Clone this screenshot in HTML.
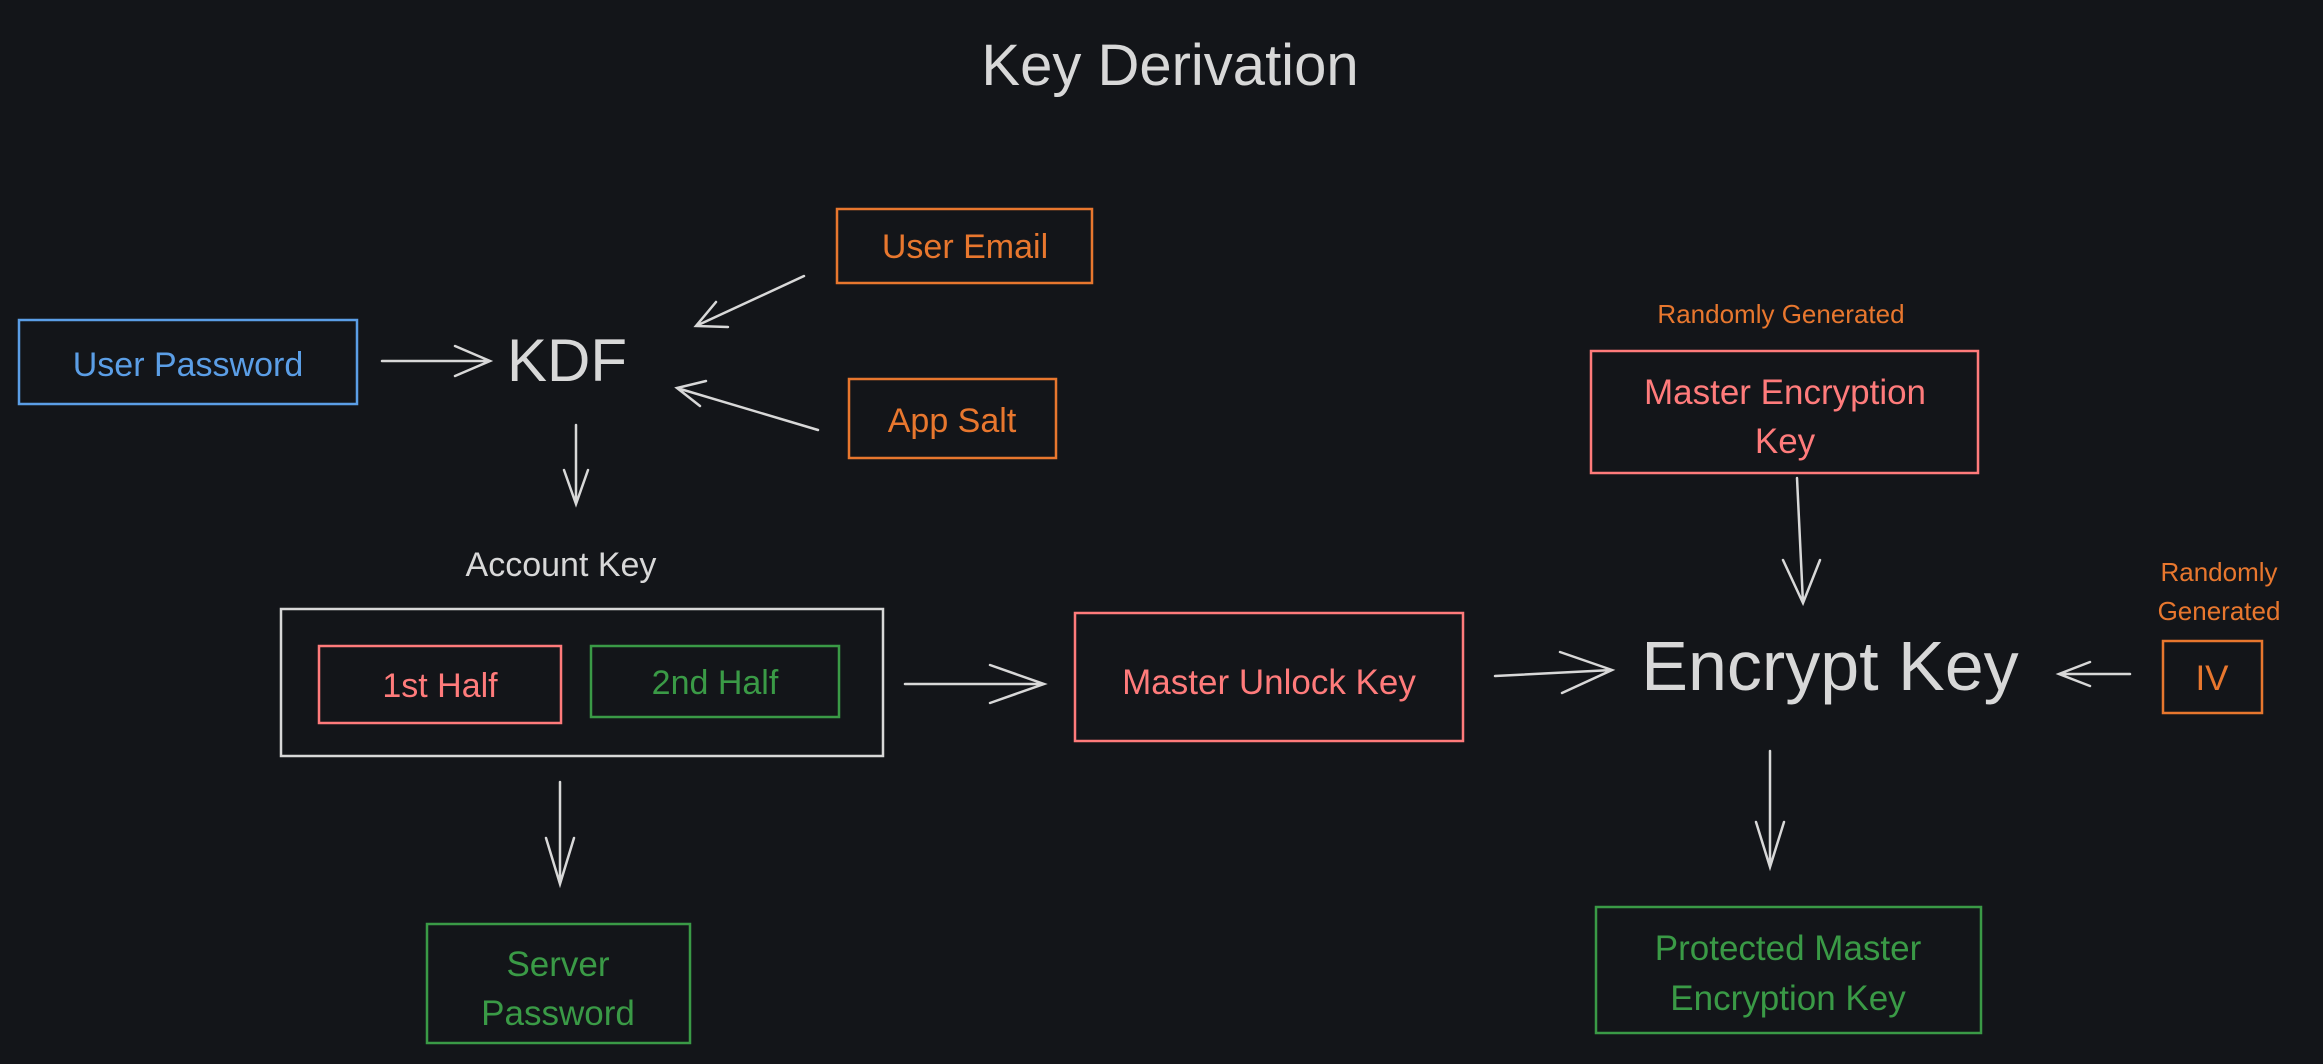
<!DOCTYPE html>
<html><head><meta charset="utf-8"><style>
html,body{margin:0;padding:0;background:#131519;}
svg{display:block}
text{font-family:"Liberation Sans",sans-serif;}
</style></head><body>
<svg width="2323" height="1064" viewBox="0 0 2323 1064" xmlns="http://www.w3.org/2000/svg">
<rect width="2323" height="1064" fill="#131519"/>
<g fill="none" stroke-width="2.5">
<rect x="19" y="320" width="338" height="84" stroke="#5b9ee6"/>
<rect x="837" y="209" width="255" height="74" stroke="#e8772e"/>
<rect x="849" y="379" width="207" height="79" stroke="#e8772e"/>
<rect x="281" y="609" width="602" height="147" stroke="#d8d8d8"/>
<rect x="319" y="646" width="242" height="77" stroke="#ff7b7b"/>
<rect x="591" y="646" width="248" height="71" stroke="#3a9a46"/>
<rect x="1075" y="613" width="388" height="128" stroke="#ff7b7b"/>
<rect x="1591" y="351" width="387" height="122" stroke="#ff7b7b"/>
<rect x="2163" y="641" width="99" height="72" stroke="#e8772e"/>
<rect x="427" y="924" width="263" height="119" stroke="#3a9a46"/>
<rect x="1596" y="907" width="385" height="126" stroke="#3a9a46"/>
</g>
<g stroke="#d8d8d8" stroke-width="2.5" fill="none" stroke-linecap="round">
<path d="M382 361 L490 361 M455 346 L490 361 L455 376"/>
<path d="M804 276 L696 326 M716 302 L696 326 L728 327"/>
<path d="M818 430 L677 388 M706 381 L677 388 L700 406"/>
<path d="M576 425 L576 504 M564 470 L576 504 L588 470"/>
<path d="M905 684 L1044 684 M990 665 L1044 684 L990 703"/>
<path d="M560 782 L560 884 M546 838 L560 884 L574 838"/>
<path d="M1495 676 L1612 670 M1560 652 L1612 670 L1562 693"/>
<path d="M1797 478 L1803 603 M1783 560 L1803 603 L1820 560"/>
<path d="M2130 674 L2059 674 M2090 662 L2059 674 L2090 686"/>
<path d="M1770 751 L1770 867 M1756 822 L1770 867 L1784 822"/>
</g>
<g text-anchor="middle">
<text x="1170" y="85" font-size="58" fill="#d8d8d8">Key Derivation</text>
<text x="188" y="376" font-size="34" fill="#5b9ee6">User Password</text>
<text x="965" y="258" font-size="34" fill="#e8772e">User Email</text>
<text x="952" y="432" font-size="34" fill="#e8772e">App Salt</text>
<text x="567" y="381" font-size="60" fill="#d8d8d8">KDF</text>
<text x="561" y="576" font-size="34" fill="#d8d8d8">Account Key</text>
<text x="440" y="697" font-size="34" fill="#ff7b7b">1st Half</text>
<text x="715" y="694" font-size="34" fill="#3a9a46">2nd Half</text>
<text x="1269" y="694" font-size="35" fill="#ff7b7b">Master Unlock Key</text>
<text x="1781" y="323" font-size="26" fill="#e8772e">Randomly Generated</text>
<text x="1785" y="404" font-size="35" fill="#ff7b7b">Master Encryption</text>
<text x="1785" y="453" font-size="35" fill="#ff7b7b">Key</text>
<text x="1830" y="690" font-size="70" fill="#d8d8d8">Encrypt Key</text>
<text x="2219" y="581" font-size="26" fill="#e8772e">Randomly</text>
<text x="2219" y="620" font-size="26" fill="#e8772e">Generated</text>
<text x="2212" y="690" font-size="35" fill="#e8772e">IV</text>
<text x="558" y="976" font-size="35" fill="#3a9a46">Server</text>
<text x="558" y="1025" font-size="35" fill="#3a9a46">Password</text>
<text x="1788" y="960" font-size="35" fill="#3a9a46">Protected Master</text>
<text x="1788" y="1010" font-size="35" fill="#3a9a46">Encryption Key</text>
</g>
</svg>
</body></html>
